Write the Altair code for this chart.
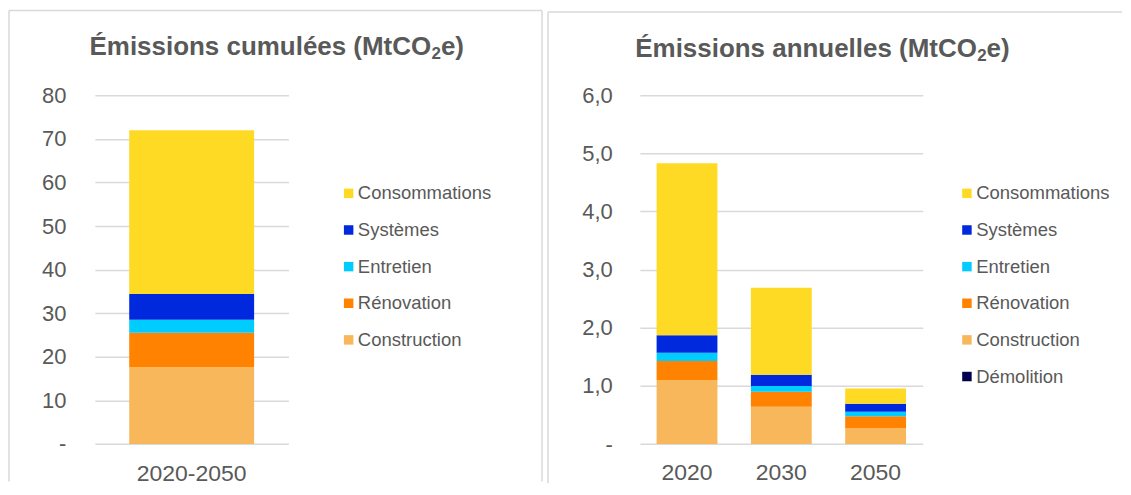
import altair as alt
import pandas as pd

# ---------------- data ----------------
series = ["Consommations", "Systèmes", "Entretien", "Rénovation", "Construction", "Démolition"]
series_colors = ["#FFDA24", "#0028DC", "#00CCFF", "#FF8200", "#F8B75A", "#00004F"]
stack_rank = {"Démolition": 0, "Construction": 1, "Rénovation": 2, "Entretien": 3, "Systèmes": 4, "Consommations": 5}

cum_categories = ["2020-2050"]
cum_consommations = [37.6]
cum_systemes = [5.9]
cum_entretien = [3.0]
cum_renovation = [7.9]
cum_construction = [17.6]

ann_categories = ["2020", "2030", "2050"]
ann_consommations = [2.96, 1.50, 0.26]
ann_systemes = [0.30, 0.19, 0.14]
ann_entretien = [0.14, 0.10, 0.075]
ann_renovation = [0.33, 0.26, 0.21]
ann_construction = [1.10, 0.64, 0.27]
ann_demolition = [0.0, 0.0, 0.0]

cum_ticks = [0, 10, 20, 30, 40, 50, 60, 70, 80]
ann_ticks = [0, 1, 2, 3, 4, 5, 6]
# title = main part + subscript + end
titles_main = ["Émissions cumulées (MtCO", "Émissions annuelles (MtCO"]
title_sub = "2"
title_end = "e)"

GRAY = "#595959"
GRID = "#D9D9D9"
TF = 26      # title font size
SF = 17      # subscript font size


def long_df(cats, cols):
    rows = []
    for name, vals in cols.items():
        for c, v in zip(cats, vals):
            rows.append({"cat": c, "serie": name, "value": v, "rank": stack_rank[name]})
    return pd.DataFrame(rows)


cum_df = long_df(cum_categories, {
    "Construction": cum_construction, "Rénovation": cum_renovation, "Entretien": cum_entretien,
    "Systèmes": cum_systemes, "Consommations": cum_consommations})
ann_df = long_df(ann_categories, {
    "Démolition": ann_demolition, "Construction": ann_construction, "Rénovation": ann_renovation,
    "Entretien": ann_entretien, "Systèmes": ann_systemes, "Consommations": ann_consommations})


def panel(df, cats, ticks, label_expr, width, height, ylab_pad, xlab_pad, dom, cols, main_title,
          title_start, title_y, legend_x, border_left, border_top, border_right, border_bottom, draw_right):
    bars = alt.Chart(df).mark_bar().encode(
        x=alt.X("cat:N", sort=cats, title=None,
                scale=alt.Scale(paddingInner=0.355, paddingOuter=0.1775),
                axis=alt.Axis(labelAngle=0, domain=False, ticks=False, tickSize=0, grid=False,
                              labelPadding=xlab_pad, labelFontSize=23, labelColor=GRAY)),
        y=alt.Y("value:Q", stack="zero", title=None,
                scale=alt.Scale(domain=[ticks[0], ticks[-1]], nice=False, zero=True),
                axis=alt.Axis(values=ticks, labelExpr=label_expr, grid=True, gridColor=GRID,
                              gridWidth=1.5, domain=False, ticks=False, tickSize=0,
                              labelPadding=ylab_pad, labelFontSize=22, labelColor=GRAY)),
        color=alt.Color("serie:N", scale=alt.Scale(domain=dom, range=cols),
                        legend=alt.Legend(title=None, orient="none", legendX=legend_x,
                                          legendY=89, symbolType="square", symbolSize=90,
                                          symbolStrokeWidth=0, labelFontSize=18.5, labelColor=GRAY,
                                          labelOffset=0, rowPadding=17.7, padding=0)),
        order=alt.Order("rank:Q", sort="ascending"),
    ).properties(width=width, height=height)

    main_w = 13.17 * TF
    sub_w = 0.556 * SF
    tdf = pd.DataFrame({"main": [main_title], "sub": [title_sub], "end": [title_end]})
    base = alt.Chart(tdf)
    t_main = base.mark_text(fontSize=TF, fontWeight="bold", color=GRAY, align="right",
                            baseline="alphabetic").encode(
        text="main:N", x=alt.value(title_start + main_w), y=alt.value(title_y))
    t_sub = base.mark_text(fontSize=SF, fontWeight="bold", color=GRAY, align="left",
                           baseline="alphabetic").encode(
        text="sub:N", x=alt.value(title_start + main_w + 0.3), y=alt.value(title_y + 4))
    t_end = base.mark_text(fontSize=TF, fontWeight="bold", color=GRAY, align="left",
                           baseline="alphabetic").encode(
        text="end:N", x=alt.value(title_start + main_w + sub_w + 0.3), y=alt.value(title_y))

    layers = [bars, t_main, t_sub, t_end]
    border = base.mark_rule(color=GRID, strokeWidth=1.5)
    layers.append(border.encode(x=alt.value(border_left), x2=alt.value(border_right),
                                y=alt.value(border_top), y2=alt.value(border_top)))
    layers.append(border.encode(x=alt.value(border_left), x2=alt.value(border_left),
                                y=alt.value(border_top), y2=alt.value(border_bottom)))
    if draw_right:
        layers.append(border.encode(x=alt.value(border_right), x2=alt.value(border_right),
                                    y=alt.value(border_top), y2=alt.value(border_bottom)))
    return alt.layer(*layers)


NB = "\u00a0\u00a0"
left = panel(cum_df, cum_categories, cum_ticks,
             "datum.value == 0 ? '-" + NB + "' : format(datum.value, 'd')",
             194, 349.3, 29, 19, series[:5], series_colors[:5], titles_main[0], -5.5, -40.5, 245,
             -86, -85, 448, 387, True)
right = panel(ann_df, ann_categories, ann_ticks,
              "datum.value == 0 ? '-" + NB + "' : replace(format(datum.value, '.1f'), '.', ',')",
              283.4, 349.4, 27.6, 18, series, series_colors, titles_main[1], -4.8, -38.8, 318.4,
              -92, -83.3, 483, 388.7, False)

chart = alt.hconcat(left, right, spacing=4).resolve_scale(color="independent").properties(
    padding={"left": 0, "top": 1, "right": 0, "bottom": 0}
).configure(font="Liberation Sans").configure_view(stroke=None)

chart.save("out.html", embed_options={"renderer": "svg", "actions": False})
